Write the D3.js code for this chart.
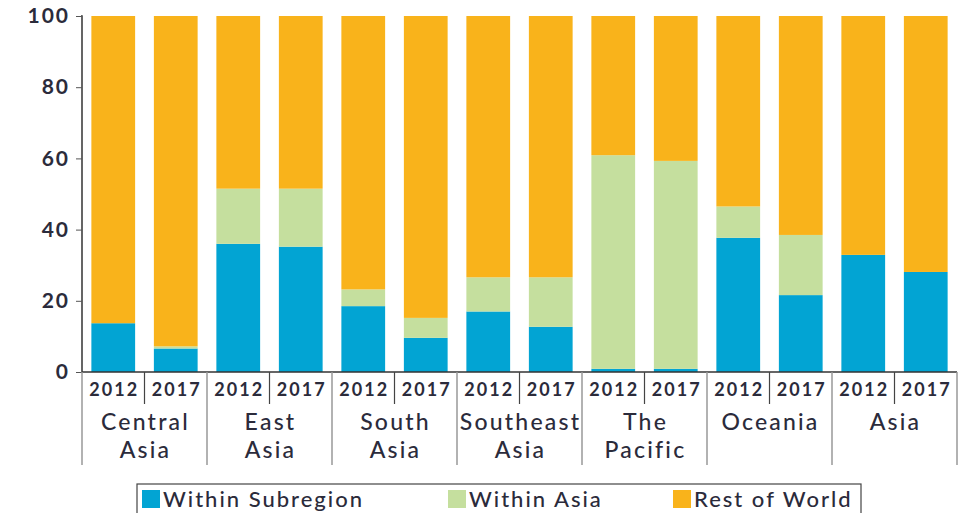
<!DOCTYPE html>
<html><head><meta charset="utf-8">
<script src="https://cdn.jsdelivr.net/npm/d3@7"></script>
<style>body{margin:0;background:#fff;} text{font-family:Lato,"Open Sans",sans-serif;}</style>
</head><body><svg id="c" width="969" height="513"></svg>
<script>
const regions = ["Central Asia","East Asia","South Asia","Southeast Asia","The Pacific","Oceania","Asia"];
const years = ["2012","2017"];
const withinSubregion = [13.7,6.6, 36.0,35.2, 18.5,9.6, 17.0,12.7, 0.9,0.9, 37.7,21.6, 32.9,28.1];
const withinAsia =      [0,0.6, 15.5,16.3, 4.7,5.6, 9.6,13.9, 60.0,58.4, 8.8,16.9, 0,0];
const restOfWorld = withinSubregion.map((v,i)=>100 - v - withinAsia[i]);
const seriesNames = ["Within Subregion","Within Asia","Rest of World"];
const colors = ["#02A4D3","#C5DF9E","#F9B31B"];
const yTicks = [0,20,40,60,80,100];

(function(){
const svg = d3.select("#c");
const mLeft = 82, mRight = 957, mTop = 16, mBottom = 372;
const keys = [];
regions.forEach(r=>years.forEach(yr=>keys.push(r+"|"+yr)));
const rows = keys.map((k,i)=>({key:k, s0:withinSubregion[i], s1:withinAsia[i], s2:restOfWorld[i]}));

const x = d3.scaleBand().domain(keys).range([mLeft,mRight]).paddingInner(0.3).paddingOuter(0.15);
const y = d3.scaleLinear().domain([0,100]).range([mBottom,mTop]);
const layers = d3.stack().keys(["s0","s1","s2"])(rows);

svg.append("g").selectAll("g").data(layers).join("g")
  .attr("fill",(d,i)=>colors[i])
  .selectAll("rect").data(d=>d).join("rect")
  .attr("x",d=>x(d.data.key)).attr("width",x.bandwidth())
  .attr("y",d=>y(d[1])).attr("height",d=>Math.max(0,y(d[0])-y(d[1])));

const ya = svg.append("g").attr("transform",`translate(${mLeft},0)`)
  .call(d3.axisLeft(y).tickValues(yTicks).tickSize(6).tickPadding(8));
ya.select(".domain").attr("stroke","#333").attr("stroke-width",1.5).attr("d",`M-1,${mTop}H0V${mBottom}`);
ya.selectAll(".tick line").attr("stroke","#555");
ya.selectAll(".tick text").attr("font-size",21).attr("font-weight",700).attr("fill","#2b2b3b")
  .attr("letter-spacing",2).attr("dx",2).attr("font-family","Lato, sans-serif");

svg.append("line").attr("x1",mLeft).attr("x2",mRight).attr("y1",mBottom).attr("y2",mBottom)
  .attr("stroke","#333").attr("stroke-width",1.5);

const step = x.step();
regions.forEach(r=>{
  const xs = x(r+"|2017") - (step - x.bandwidth())/2;
  svg.append("line").attr("x1",xs).attr("x2",xs).attr("y1",mBottom).attr("y2",404)
    .attr("stroke","#444").attr("stroke-width",1.2);
});
const gEdges = regions.map(r=>x(r+"|2012") - (step - x.bandwidth())/2);
gEdges.push(mRight);
gEdges.forEach(xe=>{
  svg.append("line").attr("x1",xe).attr("x2",xe).attr("y1",mBottom).attr("y2",465)
    .attr("stroke","#999").attr("stroke-width",1.5);
});
svg.append("g").selectAll("text").data(keys).join("text")
  .attr("x",d=>x(d)+x.bandwidth()/2+1).attr("y",396)
  .attr("text-anchor","middle").attr("font-size",18).attr("font-weight",700).attr("fill","#2b2b3b")
  .attr("letter-spacing",2)
  .text(d=>d.split("|")[1]);
const rg = svg.append("g").selectAll("text").data(regions).join("text")
  .attr("x",(d,i)=>(gEdges[i]+gEdges[i+1])/2+1).attr("y",430)
  .attr("text-anchor","middle").attr("font-size",23).attr("font-weight",500).attr("fill","#2b2b3b")
  .attr("letter-spacing",2.2);
rg.each(function(d){
  const w = d.split(" ");
  const parts = w.length===1 ? [d] : [w[0], w.slice(1).join(" ")];
  const t = d3.select(this);
  parts.forEach((p,j)=>t.append("tspan").attr("x",t.attr("x")).attr("dy",j?28:0).text(p));
});

const lg = svg.append("g");
lg.append("rect").attr("x",137).attr("y",484).attr("width",724).attr("height",40)
  .attr("fill","#fff").attr("stroke","#444").attr("stroke-width",1.2);
const lx = [142,448,673];
seriesNames.forEach((n,i)=>{
  lg.append("rect").attr("x",lx[i]).attr("y",490).attr("width",18).attr("height",18).attr("fill",colors[i]);
  lg.append("text").attr("x",lx[i]+21).attr("y",507).attr("font-size",22).attr("font-weight",500)
    .attr("letter-spacing",2).attr("fill","#2b2b3b").text(n);
});
})();
</script></body></html>
